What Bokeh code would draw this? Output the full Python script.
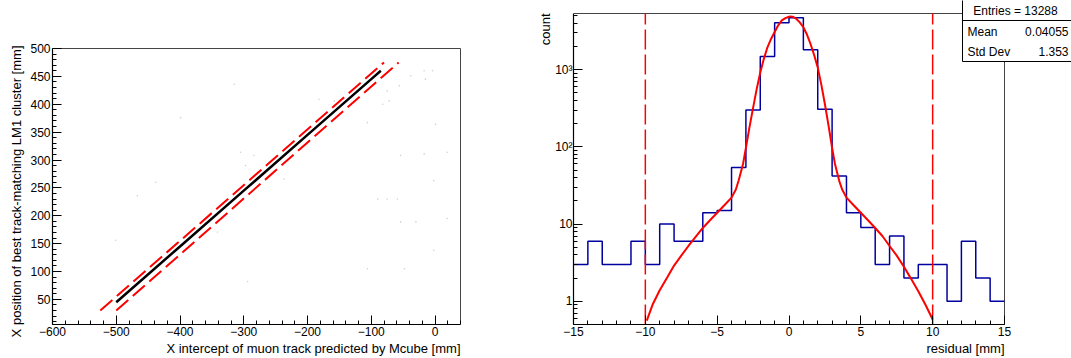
import numpy as np
from bokeh.plotting import figure
from bokeh.layouts import row
from bokeh.models import Range1d, FixedTicker, Title, CustomJSTickFormatter
from bokeh.embed import file_html
from bokeh.resources import INLINE
from bokeh.core.properties import value

FONT = "Liberation Sans"

# ---------------- left panel data ----------------
left_x_title = "X intercept of muon track predicted by Mcube [mm]"
left_y_title = "X position of best track-matching LM1 cluster [mm]"
track_x = [-500, -400, -300, -200, -100, -85]
track_y = [45, 145, 245, 345, 445, 460]
band_hi_x = [-525, -80]
band_hi_y = [30, 475]
band_lo_x = [-500, -57]
band_lo_y = [30, 475]
noise_x = [-17, -4, -38, -15, -56, -315, -75, -182, -158, -82, -72, -399, -106, 1,
           -305, -297, -284, -54, -17, 19, -438, -237, -2, -90, -75, -59, -467, -54,
           -30, 19, -341, -501, -2, -106, -48, -294]
noise_y = [460, 460, 451, 445, 433, 436, 424, 409, 406, 400, 406, 376, 367, 364,
           314, 290, 308, 308, 311, 314, 260, 266, 263, 230, 230, 230, 236, 189,
           189, 195, 171, 156, 138, 105, 105, 82]

# ---------------- right panel data ----------------
right_x_title = "residual [mm]"
right_y_title = "count"
bin_edges = list(range(-15, 16))
counts = [3, 6, 3, 3, 6, 3, 10, 6, 6, 14, 15, 54, 301, 1480, 4060,
          4720, 1805, 307, 42, 14, 9, 3, 7, 2, 3, 3, 1, 6, 2, 1]
fit_x = [-9.9, -9.5, -9, -8.5, -8, -7.5, -7, -6.5, -6, -5.5, -5, -4.5, -4, -3.7,
         -3.5, -3.2, -3, -2.75, -2.5, -2.25, -2, -1.75, -1.5, -1.25, -1, -0.75,
         -0.5, -0.25, 0, 0.1, 0.25, 0.5, 0.75, 1, 1.25, 1.5, 1.75, 2, 2.25, 2.5,
         2.75, 3, 3.2, 3.5, 3.7, 4, 4.5, 5, 5.5, 6, 6.5, 7, 7.5, 8, 8.5, 9, 9.5, 10]
fit_y = [0.56, 0.9, 1.39, 2.0, 2.9, 3.9, 5.2, 6.8, 8.9, 11.2, 14, 17.5, 22, 28,
         37, 60, 97, 180, 320, 560, 920, 1380, 1950, 2500, 3080, 3750,
         4350, 4650, 4850, 4900, 4850, 4570, 4100, 3540, 2850, 2150, 1550, 1070,
         640, 356, 190, 97, 60, 36, 28, 22, 17.5, 14, 11.2, 8.9, 7.0, 5.2, 3.9,
         2.8, 1.95, 1.35, 0.9, 0.58]
cut_lo, cut_hi = -10, 10
stat_entries = "Entries = 13288"
stat_names = ["Mean", "Std Dev"]
stat_values = ["0.04055", "1.353"]

MINUS_FMT = CustomJSTickFormatter(code="return String(tick).replace('-', '\\u2212');")
FRAME_COLOR = "#444444"


def style(p):
    p.grid.visible = False
    p.background_fill_color = "white"
    p.border_fill_color = "white"
    p.outline_line_color = None
    for ax in (p.xaxis[0], p.yaxis[0]):
        ax.axis_line_color = "black"
        ax.axis_line_width = 1.2
        ax.major_tick_in = 9
        ax.major_tick_out = 0
        ax.minor_tick_in = 4
        ax.minor_tick_out = 0
        ax.major_tick_line_color = "black"
        ax.minor_tick_line_color = "black"
        ax.major_label_text_font = FONT
        ax.major_label_text_font_size = "12px"
        ax.major_label_text_color = "black"
        ax.major_label_standoff = 2
        ax.axis_label_standoff = 0


def add_title(p, text, side, offset, standoff):
    p.add_layout(Title(text=text, align="right", text_font=FONT, text_font_size="13px",
                       text_font_style="normal", text_color="black",
                       offset=offset, standoff=standoff), side)


H = 358
BOTTOM = 34           # both frames end at page y = 324

# ---------------- left figure ----------------
# root frame: x -600..40 -> page 52..460 ; y 5..500 -> page 324..48
LX0, LX1 = -600, 40
LY0, LY1 = 5, 500
lxs = (LX1 - LX0) / 408.0
lys = (LY1 - LY0) / 276.0
p1 = figure(width=535, height=H,
            x_range=Range1d(LX0, LX1 + 2 * lxs), y_range=Range1d(LY0, LY1 + 48 * lys),
            output_backend="svg", toolbar_location=None,
            min_border_left=52, min_border_right=73, min_border_top=0,
            min_border_bottom=BOTTOM)
style(p1)
p1.xaxis[0].bounds = (LX0, LX1)
p1.yaxis[0].bounds = (LY0, LY1)
p1.xaxis[0].ticker = FixedTicker(ticks=list(range(-600, 1, 100)),
                                 minor_ticks=list(range(-600, 41, 20)))
p1.yaxis[0].ticker = FixedTicker(ticks=list(range(50, 501, 50)),
                                 minor_ticks=list(range(10, 501, 10)))
p1.xaxis[0].formatter = MINUS_FMT

# frame top & right edges
p1.segment(x0=[LX0, LX1], y0=[LY1, LY0], x1=[LX1, LX1], y1=[LY1, LY1],
           line_color=FRAME_COLOR, line_width=1)

p1.scatter(noise_x, noise_y, size=1.6, color="#d0d0d0", line_color=None)
p1.line(track_x, track_y, line_color="black", line_width=2.5)
p1.line(band_hi_x, band_hi_y, line_color="#ff0000", line_width=2, line_dash="16 6")
p1.line(band_lo_x, band_lo_y, line_color="#ff0000", line_width=2, line_dash="16 6")

add_title(p1, left_x_title, "below", 2, 0)
add_title(p1, left_y_title, "left", 45, 7)

# ---------------- right figure ----------------
# root frame: x -15..15 -> page 573..1004 ; y 0.5..5340 (log) -> page 324..13
RX0, RX1 = -15, 15
RY0, RY1 = 0.5, 5340
rxs = (RX1 - RX0) / 431.0
ldec = (np.log10(RY1) - np.log10(RY0)) / 311.0


def ry(py):
    return float(10 ** (np.log10(RY0) + (324 - py) * ldec))


def rx(px):
    return RX0 + (px - 573) * rxs


p2 = figure(width=536, height=H,
            x_range=Range1d(RX0, rx(1071)), y_range=Range1d(RY0, ry(0)),
            y_axis_type="log", output_backend="svg", toolbar_location=None,
            min_border_left=38, min_border_right=0, min_border_top=0,
            min_border_bottom=BOTTOM)
style(p2)
p2.yaxis[0].major_label_standoff = 1
p2.xaxis[0].bounds = (RX0, RX1)
p2.yaxis[0].bounds = (RY0, RY1)
p2.xaxis[0].ticker = FixedTicker(ticks=list(range(-15, 16, 5)), minor_ticks=list(range(-15, 16)))
p2.xaxis[0].formatter = MINUS_FMT
minor_log = [m * 10 ** e for e in range(-1, 4) for m in range(1, 10) if RY0 <= m * 10 ** e <= RY1]
p2.yaxis[0].ticker = FixedTicker(ticks=[1, 10, 100, 1000], minor_ticks=minor_log)
p2.yaxis[0].formatter = CustomJSTickFormatter(code="""
const e = Math.round(Math.log10(tick));
if (e == 0) return '1';
if (e == 1) return '10';
const sup = {2: '\\u00b2', 3: '\\u00b3', 4: '\\u2074'};
return '10' + sup[e];
""")

# frame top & right edges
p2.segment(x0=[RX0, RX1], y0=[RY1, RY0], x1=[RX1, RX1], y1=[RY1, RY1],
           line_color=FRAME_COLOR, line_width=1)

step_y = counts + [counts[-1]]
p2.step(bin_edges, step_y, mode="after", line_color="#0000a0", line_width=1.5)
p2.line(fit_x, fit_y, line_color="#ff0000", line_width=2)
p2.segment(x0=[cut_lo, cut_hi], y0=[RY0, RY0], x1=[cut_lo, cut_hi], y1=[RY1, RY1],
           line_color="#ff0000", line_width=1.5, line_dash="20 5")

# statistics box
p2.quad(left=rx(962), right=rx(1075), bottom=ry(61), top=ry(-5),
        fill_color="white", line_color="black", line_width=1)
p2.segment(x0=rx(962), y0=ry(20), x1=rx(1075), y1=ry(20), line_color="black", line_width=1)
p2.text(x=[rx(1015)], y=[ry(10)], text=[stat_entries], text_align="center",
        text_baseline="middle", text_font=value(FONT), text_font_size="12px",
        text_color="black")
name_y = [ry(31), ry(51)]
p2.text(x=[rx(967)] * 2, y=name_y, text=stat_names, text_align="left",
        text_baseline="middle", text_font=value(FONT), text_font_size="12px",
        text_color="black")
p2.text(x=[rx(1068)] * 2, y=name_y, text=stat_values, text_align="right",
        text_baseline="middle", text_font=value(FONT), text_font_size="12px",
        text_color="black")

add_title(p2, right_x_title, "below", 67, 0)
add_title(p2, right_y_title, "left", 13, 0)

layout = row(p1, p2)
open("out.html", "w").write(file_html(layout, INLINE))
